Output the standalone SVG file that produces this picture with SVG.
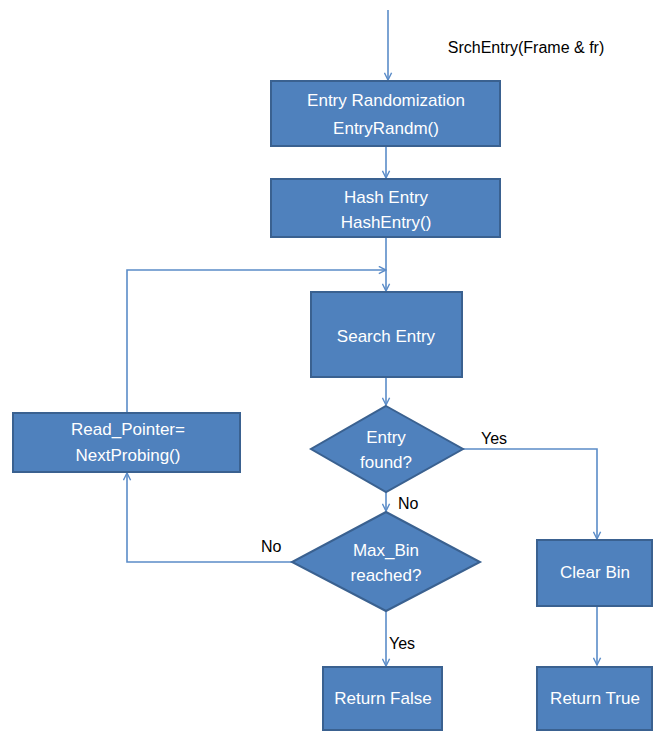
<svg xmlns="http://www.w3.org/2000/svg" width="653" height="731" viewBox="0 0 653 731">
  <style>
    .box { fill: #4F81BD; stroke: #3A6190; stroke-width: 2; }
    .lbl { fill: #FFFFFF; font-family: "Liberation Sans", Arial, sans-serif; font-size: 17px; text-anchor: middle; }
    .note { fill: #000000; font-family: "Liberation Sans", Arial, sans-serif; font-size: 16px; }
    .wire { fill: none; stroke: #5B8CC8; stroke-width: 1.6; marker-end: url(#arrow); }
  </style>
  <defs>
    <marker id="arrow" viewBox="0 0 10 10" refX="9" refY="5" markerWidth="9" markerHeight="9" markerUnits="userSpaceOnUse" orient="auto">
      <polyline points="1,1 9,5 1,9" fill="none" stroke="#5B8CC8" stroke-width="1.6"/>
    </marker>
  </defs>
  <rect width="653" height="731" fill="#FFFFFF"/>

  <g id="connectors">
    <line class="wire" x1="388" y1="10" x2="388" y2="80"/>
    <line class="wire" x1="386" y1="147" x2="386" y2="178"/>
    <line class="wire" x1="386" y1="238" x2="386" y2="291"/>
    <polyline class="wire" points="127,413 127,270 386,270"/>
    <line class="wire" x1="386" y1="377" x2="386" y2="405"/>
    <polyline class="wire" points="463,449 597,449 597,539"/>
    <line class="wire" x1="386" y1="492" x2="386" y2="511"/>
    <polyline class="wire" points="292,562 127,562 127,473"/>
    <line class="wire" x1="386" y1="611" x2="386" y2="666"/>
    <line class="wire" x1="597" y1="607" x2="597" y2="665"/>
  </g>

  <g id="entry-label">
    <text class="note" x="526" y="53" text-anchor="middle" font-size="17">SrchEntry(Frame &amp; fr)</text>
  </g>

  <g id="entry-randomization">
    <rect class="box" x="271" y="81" width="229" height="65"/>
    <text class="lbl" x="386" y="106">Entry Randomization</text>
    <text class="lbl" x="386" y="134">EntryRandm()</text>
  </g>

  <g id="hash-entry">
    <rect class="box" x="271" y="179" width="229" height="58"/>
    <text class="lbl" x="386" y="203">Hash Entry</text>
    <text class="lbl" x="386" y="228">HashEntry()</text>
  </g>

  <g id="search-entry">
    <rect class="box" x="311" y="292" width="151" height="85"/>
    <text class="lbl" x="386" y="342">Search Entry</text>
  </g>

  <g id="entry-found">
    <polygon class="box" points="386,406 463,449 386,492 311,449"/>
    <text class="lbl" x="386" y="443">Entry</text>
    <text class="lbl" x="386" y="468">found?</text>
  </g>

  <g id="read-pointer">
    <rect class="box" x="13" y="413" width="227" height="59"/>
    <text class="lbl" x="128" y="435">Read_Pointer=</text>
    <text class="lbl" x="128" y="461">NextProbing()</text>
  </g>

  <g id="max-bin">
    <polygon class="box" points="386,512 480,562 386,611 292,562"/>
    <text class="lbl" x="386" y="556">Max_Bin</text>
    <text class="lbl" x="386" y="581">reached?</text>
  </g>

  <g id="clear-bin">
    <rect class="box" x="537" y="540" width="115" height="66"/>
    <text class="lbl" x="595" y="578">Clear Bin</text>
  </g>

  <g id="return-false">
    <rect class="box" x="323" y="667" width="119" height="63"/>
    <text class="lbl" x="383" y="704">Return False</text>
  </g>

  <g id="return-true">
    <rect class="box" x="537" y="667" width="115" height="63"/>
    <text class="lbl" x="595" y="704">Return True</text>
  </g>

  <g id="branch-labels">
    <text class="note" x="481" y="444">Yes</text>
    <text class="note" x="398" y="509">No</text>
    <text class="note" x="261" y="552">No</text>
    <text class="note" x="389" y="649">Yes</text>
  </g>
</svg>
